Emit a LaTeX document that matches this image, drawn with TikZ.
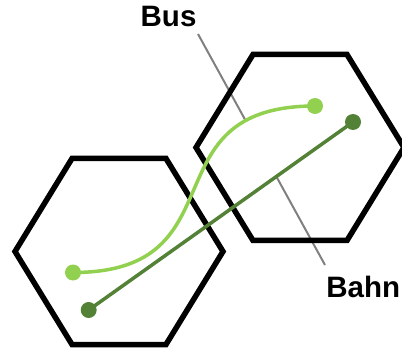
\documentclass[tikz,border=0pt]{standalone}
\usepackage{fontspec}
\setmainfont{Liberation Sans}
\usetikzlibrary{intersections}

\definecolor{busgreen}{HTML}{92D050}
\definecolor{bahngreen}{HTML}{538135}
\definecolor{leadergray}{HTML}{808080}

\tikzset{
  hexline/.style={draw=black, line width=5.5pt, line join=miter},
  hexa/.pic={\path[hexline] (-104,0) -- (-47,-93) -- (47,-93) -- (104,0) -- (47,93) -- (-47,93) -- cycle;},
  busline/.style={draw=busgreen, line width=3.5pt},
  bahnline/.style={draw=bahngreen, line width=3.5pt},
  busdot/.style={circle, fill=busgreen, minimum size=16pt, inner sep=0pt},
  bahndot/.style={circle, fill=bahngreen, minimum size=16pt, inner sep=0pt},
  leader/.style={draw=leadergray, line width=2pt},
  label/.style={inner sep=0pt, anchor=base west, font=\fontsize{29.5}{35}\selectfont\bfseries}
}

\begin{document}
\begin{tikzpicture}[x=1pt, y=-1pt]
  \useasboundingbox (0,0) rectangle (402,350);

  % labels and leader end points
  \node[label] (bus) at (140.5,26.7) {Bus};
  \node[label] (bahn) at (326.2,297.3) {Bahn};
  \coordinate (busTip) at (198,34);
  \coordinate (bahnTip) at (325,265);

  % route end points
  \coordinate (busA) at (73,272.5);
  \coordinate (busB) at (315,106);
  \coordinate (bahnA) at (88.7,310);
  \coordinate (bahnB) at (353,122);

  % construction paths for the leader intersections
  \path[name path=leaderpath] (busTip) -- (bahnTip);
  \path[name path=buspath] (busA) .. controls +(170,0) and +(-170,0) .. (busB);
  \path[name path=bahnpath] (bahnA) -- (bahnB);
  \path[name intersections={of=leaderpath and buspath, by=busHit}];
  \path[name intersections={of=leaderpath and bahnpath, by=bahnHit}];

  % leaders
  \draw[leader] (busTip) -- (busHit);
  \draw[leader] (bahnHit) -- (bahnTip);

  % the two hexagonal cells
  \coordinate (cellL) at (119,251.5);
  \coordinate (cellR) at (300,147.5);
  \pic at (cellL) {hexa};
  \pic at (cellR) {hexa};

  % routes
  \draw[busline] (busA) .. controls +(170,0) and +(-170,0) .. (busB);
  \draw[bahnline] (bahnA) -- (bahnB);
  \node[busdot] (busStart) at (busA) {};
  \node[busdot] (busEnd) at (busB) {};
  \node[bahndot] (bahnStart) at (bahnA) {};
  \node[bahndot] (bahnEnd) at (bahnB) {};
\end{tikzpicture}
\end{document}
